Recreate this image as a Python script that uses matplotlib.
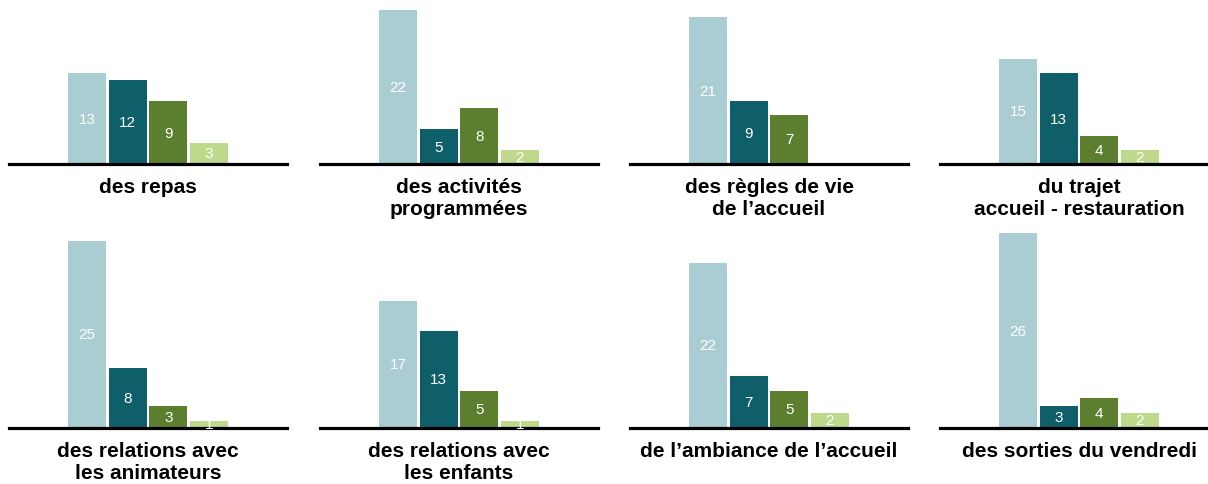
import numpy as np
import matplotlib
matplotlib.use("Agg")
import matplotlib.pyplot as plt

plt.rcParams['font.family'] = ['Liberation Sans', 'DejaVu Sans']

# categories (one panel each) and the four answer counts
titles = [
    "des repas",
    "des activités\nprogrammées",
    "des règles de vie\nde l’accueil",
    "du trajet\naccueil - restauration",
    "des relations avec\nles animateurs",
    "des relations avec\nles enfants",
    "de l’ambiance de l’accueil",
    "des sorties du vendredi",
]
tres_satisfait = [13, 22, 21, 15, 25, 17, 22, 26]
satisfait = [12, 5, 9, 13, 8, 13, 7, 3]
peu_satisfait = [9, 8, 7, 4, 3, 5, 5, 4]
pas_satisfait = [3, 2, 0, 2, 1, 1, 2, 2]

colors = ['#aacdd3', '#0f5f6a', '#5b7f2e', '#bfd98c']

W, H = 1208, 485
fig = plt.figure(figsize=(W / 100, H / 100), dpi=100)

lefts = [9, 320, 630, 940]
baselines = [165, 429]
px_per_unit = [7.0, 7.5]
ax_w = 278

for i, title in enumerate(titles):
    row, col = divmod(i, 4)
    ymax = 27
    ax_h = ymax * px_per_unit[row]
    ax = fig.add_axes([lefts[col] / W, (H - baselines[row]) / H,
                       ax_w / W, ax_h / H])
    vals = [tres_satisfait[i], satisfait[i], peu_satisfait[i], pas_satisfait[i]]
    x = np.arange(4)
    ax.bar(x, vals, width=0.94, color=colors, zorder=2)
    for xi, v in zip(x, vals):
        if v > 0:
            ax.text(xi, v / 2, str(v), ha='center', va='center',
                    color='white', fontsize=11, zorder=5)
    ax.set_xlim(-1.93, 4.93)
    ax.set_ylim(0, ymax)
    ax.axhline(0, color='black', lw=2.3, zorder=4, clip_on=False)
    for s in ax.spines.values():
        s.set_visible(False)
    ax.set_xticks([])
    ax.set_yticks([])
    ax.patch.set_alpha(0)
    ax.annotate(title, xy=(0.5, 0), xycoords='axes fraction',
                xytext=(0, -13), textcoords='offset pixels',
                ha='center', va='top', fontsize=15, fontweight='bold',
                linespacing=1.17)

fig.savefig("out.png", dpi=100)
